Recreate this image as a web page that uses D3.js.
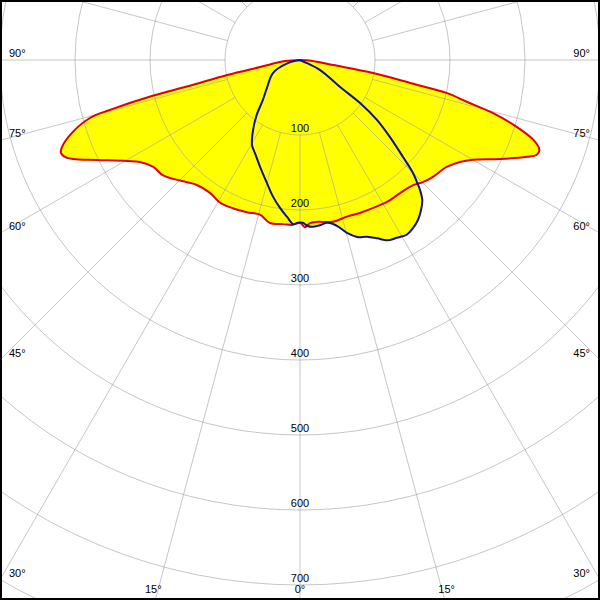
<!DOCTYPE html>
<html>
<head>
<meta charset="utf-8">
<script src="https://cdn.jsdelivr.net/npm/d3@7"></script>
<style>
  html, body { margin: 0; padding: 0; background: #fff; }
  svg { display: block; }
  text { font-family: "Liberation Sans", Arial, sans-serif; font-size: 11px; fill: #000; }
</style>
</head>
<body>
<svg id="chart" width="600" height="600"></svg>
<script>
// C0-C180 plane (red), gamma angle in degrees from nadir, intensity in cd
const redAngles = [-90,-86,-80,-78.4,-76.8,-76.4,-75.3,-74.6,-72.4,-69.9,-68.7,-67.6,-66.4,-63.8,-59.7,-57.5,-53.9,-50,-46.9,-42.8,-39.5,-34.1,-29.2,-24.4,-19.2,-14.5,-10.4,-5.9,-2.4,0,1.7,3.5,6,11.5,16.7,21.4,26.3,31.5,36.9,42.1,45.2,48.7,53.9,57.5,60,63.7,66.9,68.2,69.4,71.1,72.8,74.6,75.9,77.3,78.2,79.9,81.4,86,90];
const redValues = [0,20,54,99,155,201,262,290,318,338,342,339,330,302,267,253,242,239,232,222,216,214,218,217,215,213,221,220,220,217,223,218,217,220,218,219,220,222,222,225,231,236,242,253,266,298,329,340,341,329,303,267,230,201,150,99,45,15,0];

// C90-C270 plane (blue)
const blueAngles = [-90,-76,-64.3,-49.6,-42.8,-38.1,-33.9,-29.5,-25.8,-20.5,-15,-11.1,-7.7,-4.7,-2.4,-0.7,1,2.8,4.5,6.9,9.4,11.4,13.4,15.2,17.9,20.7,23.4,25.8,28.6,31.4,33.9,36.4,38.9,41.1,42.7,43.8,45,46.7,49.4,52.1,54.4,56,63.4,90];
const blueValues = [0,16,40,58,73,94,112,130,138,152,170,186,199,210,219,217,217,222,223,222,220,223,230,239,248,252,259,267,270,273,270,265,257,248,236,225,213,189,158,130,98,64,30,0];

// grid / tick labels
const rings = [100,200,300,400,500,600,700,800];
const ringLabels = ["100","200","300","400","500","600","700"];
const sideAngleLabels = [90,75,60,45,30];
const bottomAngleLabels = [-15,0,15];

const W = 600, H = 600, cx = 300, cy = 60;
const svg = d3.select("#chart");
const r = d3.scaleLinear().domain([0, 800]).range([0, 600]);
const toRad = g => Math.PI - g * Math.PI / 180;

const g = svg.append("g").attr("transform", `translate(${cx},${cy})`);

const line = d3.lineRadial()
  .angle(d => toRad(d[0]))
  .radius(d => r(d[1]))
  .curve(d3.curveCatmullRomClosed.alpha(0.5));

const redData = redAngles.map((a, i) => [a, redValues[i]]);
const blueData = blueAngles.map((a, i) => [a, blueValues[i]]);

// fills
g.append("path").attr("d", line(blueData)).attr("fill", "#ffff00").attr("stroke", "none");
g.append("path").attr("d", line(redData)).attr("fill", "#ffff00").attr("stroke", "none");

// grid
const grid = g.append("g").attr("fill", "none").attr("stroke", "#a0a0a0").attr("stroke-opacity", 0.6).attr("stroke-width", 1);
rings.forEach(v => grid.append("circle").attr("r", r(v)));
d3.range(0, 360, 15).forEach(a => {
  const t = a * Math.PI / 180;
  const r0 = r(100), r1 = 1000;
  grid.append("line")
    .attr("x1", r0 * Math.sin(t)).attr("y1", r0 * Math.cos(t))
    .attr("x2", r1 * Math.sin(t)).attr("y2", r1 * Math.cos(t));
});

// ring labels
ringLabels.forEach(s => {
  g.append("text").attr("x", 0).attr("y", r(+s) - 3).attr("text-anchor", "middle").text(s);
});

// side angle labels (where radial lines meet the left/right edges)
sideAngleLabels.forEach(a => {
  const t = a * Math.PI / 180;
  const dist = cx / Math.sin(t);
  const yEdge = cy + dist * Math.cos(t);
  svg.append("text").attr("x", 9).attr("y", yEdge - 3).text(a + "°");
  svg.append("text").attr("x", 590).attr("y", yEdge - 3).attr("text-anchor", "end").text(a + "°");
});
// bottom angle labels
bottomAngleLabels.forEach(a => {
  const t = a * Math.PI / 180;
  const xEdge = cx + (H - cy) * Math.tan(t);
  svg.append("text").attr("x", xEdge + (a < 0 ? -2 : a > 0 ? 2 : 0)).attr("y", 593).attr("text-anchor", "middle").text(Math.abs(a) + "°");
});

// curves
g.append("path").attr("d", line(redData)).attr("fill", "none").attr("stroke", "#e00000").attr("stroke-width", 2).attr("stroke-linejoin", "round");
g.append("path").attr("d", line(blueData)).attr("fill", "none").attr("stroke", "#10109a").attr("stroke-width", 2).attr("stroke-linejoin", "round");

// frame
svg.append("rect").attr("x", 1).attr("y", 1).attr("width", W - 2).attr("height", H - 2)
  .attr("fill", "none").attr("stroke", "#000").attr("stroke-width", 2);
</script>
</body>
</html>
